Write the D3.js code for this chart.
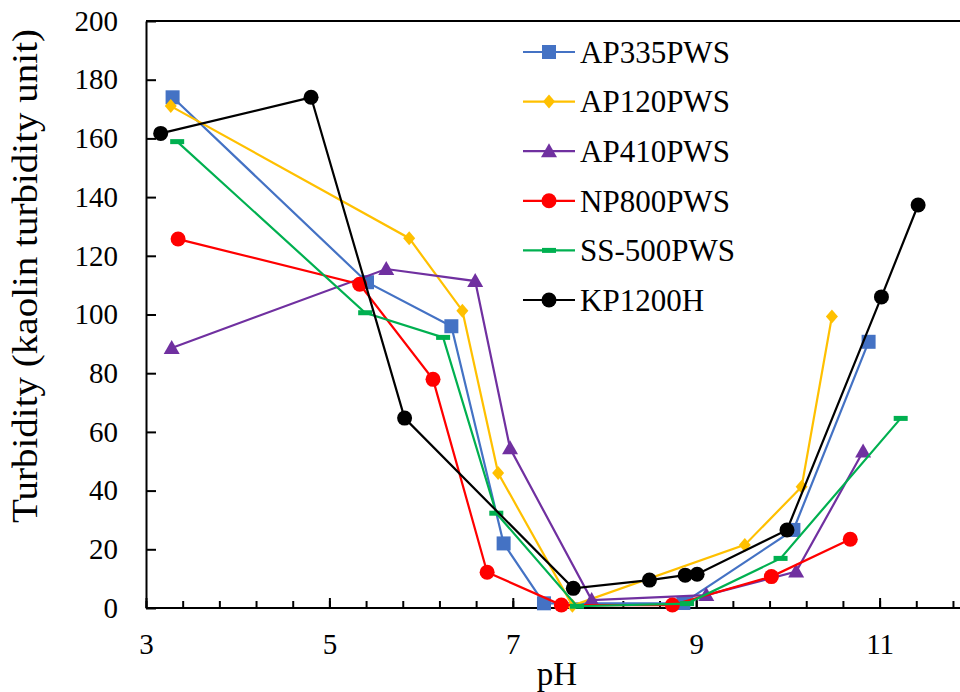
<!DOCTYPE html>
<html>
<head>
<meta charset="utf-8">
<script src="https://cdn.jsdelivr.net/npm/d3@7"></script>
<style>
  html, body { margin: 0; padding: 0; background: #fff; }
  svg { display: block; }
  text { font-family: "Liberation Serif", "Times New Roman", serif; fill: #000; }
</style>
</head>
<body>
<svg id="chart" width="960" height="692"></svg>
<script>
// series names / colours
const seriesNames = ["AP335PWS", "AP120PWS", "AP410PWS", "NP800PWS", "SS-500PWS", "KP1200H"];
const seriesColors = ["#4472C4", "#FFC000", "#7030A0", "#FF0000", "#00B050", "#000000"];
const seriesSymbols = ["square", "diamond", "triangle", "circle", "dash", "circle"];

// values (pH, turbidity)
const phAP335 = [3.29, 5.41, 6.33, 6.90, 7.34, 8.86, 10.06, 10.88];
const tuAP335 = [174, 111, 96, 22, 1.6, 1.7, 26.6, 90.7];

const phAP120 = [3.27, 5.87, 6.45, 6.84, 7.65, 9.53, 10.15, 10.48];
const tuAP120 = [171, 126, 101.3, 46, 0.8, 21.5, 41.3, 99.3];

const phAP410 = [3.28, 5.62, 6.59, 6.97, 7.86, 9.11, 10.09, 10.82];
const tuAP410 = [88.6, 115.5, 111.4, 54.4, 2.7, 4.4, 12.4, 53.3];

const phNP800 = [3.35, 5.33, 6.13, 6.72, 7.53, 8.74, 9.82, 10.68];
const tuNP800 = [125.7, 110.3, 77.9, 12.2, 1.0, 1.0, 10.7, 23.4];

const phSS500 = [3.34, 5.39, 6.24, 6.82, 7.70, 8.90, 9.92, 11.23];
const tuSS500 = [158.9, 100.6, 92.2, 32.3, 0.6, 1.5, 16.9, 64.6];

const phKP1200 = [3.16, 4.80, 5.82, 7.66, 8.49, 8.88, 9.01, 9.99, 11.02, 11.42];
const tuKP1200 = [161.7, 174, 64.7, 6.7, 9.5, 11.2, 11.5, 26.6, 106, 137.3];

const xLabels = [3, 5, 7, 9, 11];
const yTicks = [0, 20, 40, 60, 80, 100, 120, 140, 160, 180, 200];

const allPh = [phAP335, phAP120, phAP410, phNP800, phSS500, phKP1200];
const allTu = [tuAP335, tuAP120, tuAP410, tuNP800, tuSS500, tuKP1200];

const series = seriesNames.map((name, i) => ({
    name: name,
    color: seriesColors[i],
    symbol: seriesSymbols[i],
    points: allPh[i].map((ph, j) => ({ ph: ph, t: allTu[i][j] }))
}));

const svg = d3.select("#chart");
const plotLeft = 146, plotTop = 21, plotBottom = 608;
const pxPerUnit = 91.7;
const serif = '"Liberation Serif", "Times New Roman", serif';

const x = d3.scaleLinear().domain([3, 12]).range([plotLeft, plotLeft + 9 * pxPerUnit]);
const y = d3.scaleLinear().domain([0, 200]).range([plotBottom, plotTop]);

// top border of plot area
svg.append("line")
    .attr("x1", plotLeft).attr("x2", 960)
    .attr("y1", plotTop).attr("y2", plotTop)
    .attr("stroke", "#000").attr("stroke-width", 2);

// minor x ticks every 0.4
const minorTicks = d3.range(0, 23).map(k => +(3 + k * 0.4).toFixed(1));
svg.append("g")
    .attr("transform", `translate(0, ${plotBottom})`)
    .call(d3.axisBottom(x).tickValues(minorTicks).tickSize(-7).tickFormat("").tickSizeOuter(0))
    .call(g => g.select(".domain").remove())
    .call(g => g.selectAll("line").attr("stroke-width", 2));

// major x ticks with labels
svg.append("g")
    .attr("transform", `translate(0, ${plotBottom})`)
    .call(d3.axisBottom(x).tickValues(xLabels).tickSize(-10).tickPadding(25).tickSizeOuter(0).tickFormat(d3.format("d")))
    .call(g => g.select(".domain").remove())
    .call(g => g.selectAll("line").attr("stroke-width", 2))
    .call(g => g.selectAll("text").style("font-size", "29px").style("font-family", serif));

svg.append("line")
    .attr("x1", plotLeft).attr("x2", 960)
    .attr("y1", plotBottom).attr("y2", plotBottom)
    .attr("stroke", "#000").attr("stroke-width", 2);

// y axis
svg.append("g")
    .attr("transform", `translate(${plotLeft}, 0)`)
    .call(d3.axisLeft(y).tickValues(yTicks).tickSize(-10).tickPadding(28).tickSizeOuter(0))
    .call(g => g.select(".domain").attr("stroke-width", 2))
    .call(g => g.selectAll("line").attr("stroke-width", 2))
    .call(g => g.selectAll("text").style("font-size", "29px").style("font-family", serif));

// axis titles
svg.append("text")
    .attr("x", 557).attr("y", 685)
    .attr("text-anchor", "middle")
    .style("font-size", "33px")
    .style("font-family", serif)
    .text("pH");

svg.append("text")
    .attr("transform", "translate(37, 276) rotate(-90)")
    .attr("text-anchor", "middle")
    .attr("textLength", 494)
    .attr("lengthAdjust", "spacingAndGlyphs")
    .style("font-size", "36px")
    .style("font-family", serif)
    .text("Turbidity (kaolin turbidity unit)");

function drawMarker(g, symbol, color) {
    if (symbol === "square") {
        g.append("rect").attr("x", -7).attr("y", -7).attr("width", 14).attr("height", 14).attr("fill", color);
    } else if (symbol === "diamond") {
        g.append("path").attr("d", "M0,-7L6,0L0,7L-6,0Z").attr("fill", color);
    } else if (symbol === "triangle") {
        g.append("path").attr("d", "M0,-8L8,6L-8,6Z").attr("fill", color);
    } else if (symbol === "circle") {
        g.append("circle").attr("r", 7.5).attr("fill", color);
    } else if (symbol === "dash") {
        g.append("rect").attr("x", -7).attr("y", -2.5).attr("width", 14).attr("height", 5).attr("fill", color);
    }
}

const line = d3.line().x(d => x(d.ph)).y(d => y(d.t));

series.forEach(s => {
    const g = svg.append("g");
    g.append("path")
        .datum(s.points)
        .attr("d", line)
        .attr("fill", "none")
        .attr("stroke", s.color)
        .attr("stroke-width", 2.2);
    s.points.forEach(p => {
        const m = g.append("g").attr("transform", `translate(${x(p.ph)}, ${y(p.t)})`);
        drawMarker(m, s.symbol, s.color);
    });
});

// legend
const legend = svg.append("g").attr("transform", "translate(523, 52)");
series.forEach((s, i) => {
    const row = legend.append("g").attr("transform", `translate(0, ${i * 49.6})`);
    row.append("line").attr("x1", 0).attr("x2", 52).attr("y1", 0).attr("y2", 0)
        .attr("stroke", s.color).attr("stroke-width", 2.2);
    const m = row.append("g").attr("transform", "translate(26, 0)");
    drawMarker(m, s.symbol, s.color);
    row.append("text")
        .attr("x", 57).attr("y", 0)
        .attr("dy", "0.35em")
        .style("font-size", "31px")
        .style("font-family", serif)
        .text(s.name);
});
</script>
</body>
</html>
